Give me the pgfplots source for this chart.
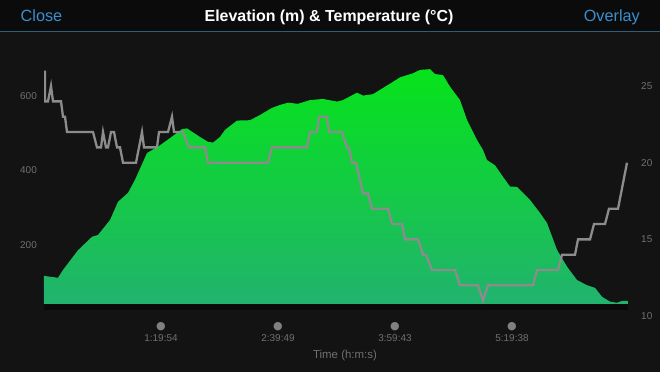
\documentclass[border=0pt]{standalone}
\usepackage{pgfplots}
\pgfplotsset{compat=1.18}
\usepackage{fontspec}
\setmainfont{Liberation Sans}
\newfontfamily\dejavu{DejaVu Sans}
\definecolor{bgc}{HTML}{131313}
\definecolor{hdr}{HTML}{0B0B0B}
\definecolor{hline}{HTML}{2E5F7A}
\definecolor{bluetxt}{HTML}{3B8FD0}
\definecolor{tickgray}{HTML}{707070}
\definecolor{dotgray}{HTML}{808080}
\definecolor{templine}{HTML}{8C8C8C}
\definecolor{gtop}{HTML}{06E31A}
\definecolor{gbot}{HTML}{21B36E}
\definecolor{strip}{HTML}{0A0A0A}
\pgfdeclarelayer{background}
\pgfsetlayers{background,main}
\newcommand{\tl}[1]{{\dejavu\fontsize{11}{11}\selectfont\textcolor{dotgray}{●}}\\#1}
\begin{document}
\begin{tikzpicture}
\begin{axis}[
  name=main,
  scale only axis, width=584bp, height=256bp,
  xmin=0, xmax=584, ymin=9.4, ymax=696.6,
  axis lines=left,
  axis line style={draw=none},
  tick style={draw=none},
  major tick length=0pt,
  /pgf/number format/assume math mode=true,
  ytick={200,400,600},
  yticklabel style={font=\fontsize{10}{12}\selectfont, text=tickgray, inner sep=0pt, anchor=east, xshift=-7bp},
  xtick={117,234,351,468},
  xticklabels={{\tl{1:19:54}},{\tl{2:39:49}},{\tl{3:59:43}},{\tl{5:19:38}}},
  xticklabel style={font=\fontsize{10}{12}\selectfont, text=tickgray, align=center, inner sep=0pt, anchor=north, yshift=-6.5bp},
]
\fill[strip] (axis cs:0,42) rectangle (axis cs:584,26);
\addplot[draw=none, shade, top color=gtop, bottom color=gbot] coordinates {
(0,42) (0,117) (14,112) (19,133) (34,186) (48,222) (54,227) (66,267) (74,316)
(84,340) (91,375) (103,447) (114,464) (126,487) (138,511) (143,513) (156,490)
(164,477) (169,475) (176,490) (181,509) (193,534) (206,535) (216,549) (228,568)
(236,576) (244,582) (254,579) (266,589) (279,592) (293,585) (299,589) (313,609)
(319,601) (329,605) (349,638) (356,650) (369,661) (376,670) (386,672) (391,659)
(399,656) (406,625) (416,589) (423,536) (433,482) (439,455) (443,428) (451,414)
(459,383) (466,357) (473,356) (486,321) (496,286) (503,259) (513,187) (523,142)
(533,106) (543,92) (551,85) (558,61) (566,48) (573,45) (578,50) (584,50) (584,42)
} -- cycle;
\end{axis}

\begin{axis}[
  at={(main.south west)}, anchor=south west,
  scale only axis, width=584bp, height=256bp,
  xmin=0, xmax=584, ymin=10, ymax=26.7,
  axis y line*=right, axis x line=none,
  axis line style={draw=none},
  tick style={draw=none},
  major tick length=0pt,
  /pgf/number format/assume math mode=true,
  ytick={10,15,20,25},
  yticklabel style={font=\fontsize{10}{12}\selectfont, text=tickgray, inner sep=0pt, anchor=west, xshift=13bp},
]
\addplot[templine, line width=2.3bp, line join=miter] coordinates {
(1,26) (1,24) (4,24) (7,25) (9,24) (17,24) (19,23) (21,23) (23,22) (49,22)
(53,21) (57,21) (59,22) (62,21) (64,21) (67,22) (70,22) (73,21) (76,21) (79,20)
(92,20) (95,21) (98,22) (100,21) (113,21) (115,22) (124,22) (128,23) (130,22)
(139,22) (145,21) (161,21) (164,20) (224,20) (228,21) (263,21) (266,22) (273,22)
(275,23) (283,23) (285,22) (298,22) (303,21) (305,21) (308,20) (312,20) (319,18)
(324,18) (328,17) (344,17) (348,16) (358,16) (361,15) (374,15) (379,14) (382,14)
(388,13) (411,13) (416,12) (434,12) (439,11) (444,12) (489,12) (493,13) (514,13)
(518,14) (531,14) (534,15) (546,15) (550,16) (561,16) (565,17) (574,17) (583,20)
};
\end{axis}

\begin{pgfonlayer}{background}
\begin{scope}[shift={(main.south west)}, xshift=-44bp, yshift=-55bp, x=1bp, y=1bp]
\fill[bgc] (-3,-3) rectangle (663,374);
\fill[hdr] (-3,339.3) rectangle (663,374);
\draw[hline, line width=1.3bp] (-3,339.3) -- (663,339.3);
\node[anchor=base west, inner sep=0, text=bluetxt, font=\fontsize{16.3}{18}\selectfont] at (20.5,350) {Close};
\node[anchor=base, inner sep=0, text=white, font=\fontsize{16}{18}\selectfont\bfseries] at (329,350) {Elevation (m) \& Temperature (°C)};
\node[anchor=base east, inner sep=0, text=bluetxt, font=\fontsize{16.3}{18}\selectfont] at (640,350) {Overlay};
\node[anchor=base, inner sep=0, text=tickgray, font=\fontsize{11.5}{13}\selectfont] at (345,13) {Time (h:m:s)};
\end{scope}
\end{pgfonlayer}
\pgfresetboundingbox
\path[use as bounding box, shift={(main.south west)}, xshift=-44bp, yshift=-55bp, x=1bp, y=1bp] (0,0) rectangle (660,371);
\end{tikzpicture}
\end{document}
